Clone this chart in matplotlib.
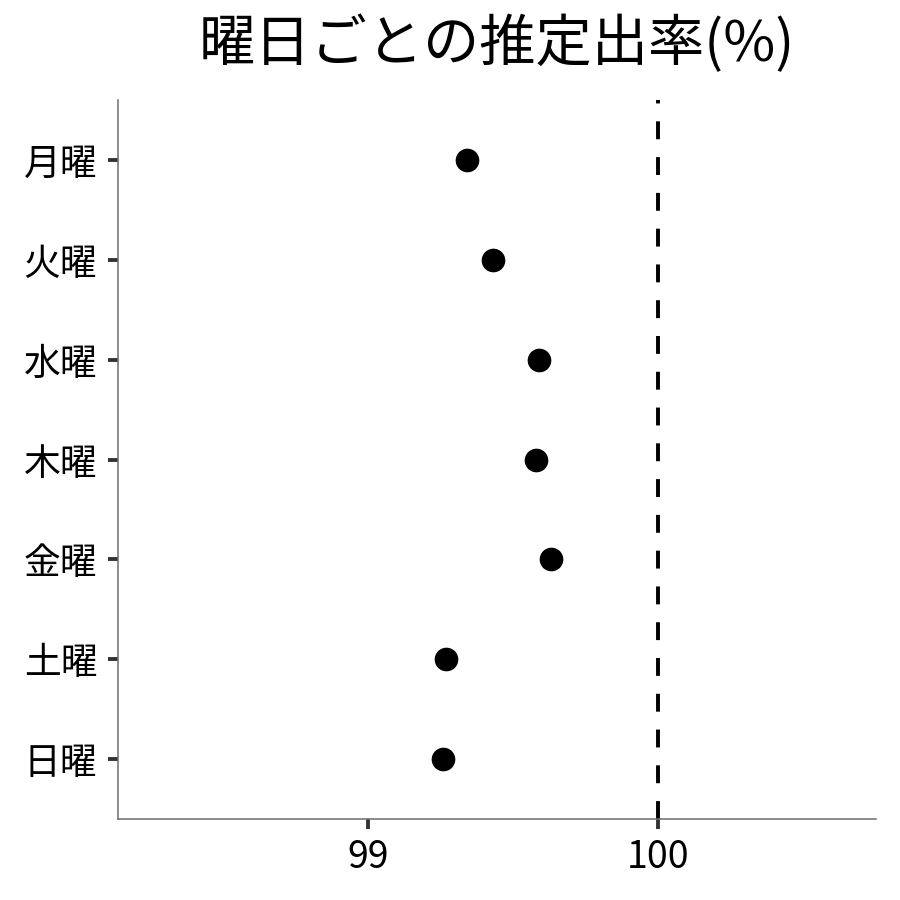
import matplotlib
matplotlib.use("Agg")
import matplotlib.pyplot as plt

plt.rcParams['font.family'] = ['Noto Sans CJK JP', 'DejaVu Sans']

days = ['月曜', '火曜', '水曜', '木曜', '金曜', '土曜', '日曜']
rates = [99.34, 99.43, 99.59, 99.58, 99.63, 99.27, 99.26]
ref_value = 100
xticks = [99, 100]
title = '曜日ごとの推定出率(%)'

fig = plt.figure(figsize=(9, 9), dpi=100)
ax = fig.add_axes([118/900, 81/900, (876-118)/900, (819-100)/900])

ypos = list(range(len(days)))
ax.scatter(rates, ypos, s=290, color='black', zorder=3, linewidths=0)
ax.axvline(ref_value, color='black', linewidth=2.8, linestyle=(0, (4.6, 4.6)), zorder=2)

ax.set_xlim(98.138, 100.752)
ax.set_ylim(6.6, -0.6)
ax.set_yticks(ypos)
ax.set_yticklabels(days)
ax.set_xticks(xticks)
ax.set_xticklabels([str(v) for v in xticks])

for side in ['top', 'right']:
    ax.spines[side].set_visible(False)
for side in ['left', 'bottom']:
    ax.spines[side].set_color('#6e6e6e')
    ax.spines[side].set_linewidth(1.1)

ax.tick_params(axis='both', length=7.5, width=2.8, color='#333333', labelcolor='black')
ax.tick_params(axis='y', pad=7.5, labelsize=26.5)
ax.tick_params(axis='x', pad=6, labelsize=27)

fig.text(497/900, 1 - 45/900, title, ha='center', va='center', fontsize=40.5)

fig.savefig('out.png', dpi=100)
